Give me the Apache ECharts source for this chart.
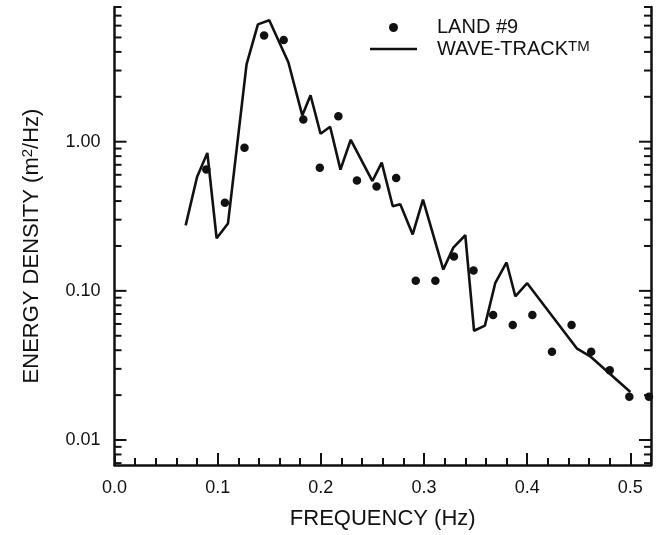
<!DOCTYPE html>
<html>
<head>
<meta charset="utf-8">
<script src="https://cdn.jsdelivr.net/npm/echarts@6/dist/echarts.min.js"></script>
<style>
html, body { margin: 0; padding: 0; background: #fff; }
#chart { width: 659px; height: 535px; }
</style>
</head>
<body>
<div id="chart"></div>
<script>
// measured spectrum (dots)
var landFreq = [0.089, 0.107, 0.126, 0.145, 0.164, 0.183, 0.199, 0.217, 0.235, 0.254, 0.273, 0.292,
    0.311, 0.329, 0.348, 0.367, 0.386, 0.405, 0.424, 0.443, 0.462, 0.480, 0.499, 0.518];
var landDensity = [0.65, 0.39, 0.91, 5.15, 4.8, 1.41, 0.67, 1.48, 0.55, 0.50, 0.57, 0.117,
    0.117, 0.17, 0.137, 0.069, 0.059, 0.069, 0.039, 0.059, 0.039, 0.0294, 0.0195, 0.0195];

// model spectrum (line)
var waveFreq = [0.069, 0.080, 0.090, 0.099, 0.110, 0.128, 0.139, 0.150, 0.1685, 0.182, 0.190,
    0.1997, 0.209, 0.219, 0.229, 0.250, 0.259, 0.2697, 0.277, 0.289, 0.299, 0.3187, 0.3284,
    0.340, 0.3485, 0.359, 0.369, 0.380, 0.3885, 0.400, 0.448, 0.461, 0.500];
var waveDensity = [0.275, 0.58, 0.84, 0.225, 0.283, 3.30, 6.12, 6.52, 3.41, 1.5, 2.05,
    1.13, 1.26, 0.65, 1.03, 0.545, 0.724, 0.369, 0.381, 0.239, 0.409, 0.139, 0.195,
    0.236, 0.054, 0.0585, 0.1125, 0.155, 0.092, 0.1125, 0.0412, 0.0364, 0.021];

// axis ticks
var yMajorTicks = [0.01, 0.1, 1];
var yMinorTicks = [0.007, 0.008, 0.009, 0.02, 0.03, 0.04, 0.05, 0.06, 0.07, 0.08, 0.09,
    0.2, 0.3, 0.4, 0.5, 0.6, 0.7, 0.8, 0.9, 2, 3, 4, 5, 6, 7, 8];

var X_MIN = 0, X_MAX = 0.52;
var Y_MIN = 0.0068, Y_MAX = 8;
var INK = '#111';
var FONT = 'Liberation Sans';

function zip(a, b) {
    return a.map(function (v, i) { return [v, b[i]]; });
}

// ticks on both left and right frame, pointing inward
function tickRenderer(len) {
    return function (params, api) {
        var v = api.value(1);
        var l = api.coord([X_MIN, v]);
        var r = api.coord([X_MAX, v]);
        return {
            type: 'group',
            children: [
                { type: 'line', shape: { x1: l[0], y1: l[1], x2: l[0] + len, y2: l[1] }, style: { stroke: INK, lineWidth: 2 } },
                { type: 'line', shape: { x1: r[0], y1: r[1], x2: r[0] - len, y2: r[1] }, style: { stroke: INK, lineWidth: 2 } }
            ]
        };
    };
}

var legendText = {
    fontFamily: FONT, fontSize: 20, color: INK,
    rich: {
        t: { fontFamily: FONT, fontSize: 20, color: INK },
        sup: { fontFamily: FONT, fontSize: 15, color: INK, verticalAlign: 'top' }
    }
};

var chart = echarts.init(document.getElementById('chart'));
var opt = {
    backgroundColor: '#fff',
    animation: false,
    grid: { left: 114.5, right: 8, top: 7, bottom: 67.5 },
    legend: [{
        data: [{ name: 'LAND #9', icon: 'circle' }],
        left: 389, top: 17.5, padding: 0,
        itemWidth: 9, itemHeight: 9,
        formatter: function (name) { return '{t|' + name + '}'; },
        textStyle: echarts.util.extend({ padding: [0, 0, 0, 34] }, legendText)
    }, {
        data: [{ name: 'WAVE-TRACK', icon: 'rect' }],
        left: 370, top: 39, padding: 0,
        itemWidth: 47, itemHeight: 2.6,
        itemStyle: { color: INK },
        formatter: function (name) { return '{t|' + name + '}{sup|TM}'; },
        textStyle: echarts.util.extend({ padding: [0, 0, 0, 15] }, legendText)
    }],
    xAxis: {
        type: 'value', min: X_MIN, max: X_MAX, interval: 0.1,
        axisLine: { onZero: false, lineStyle: { color: INK, width: 2.5 } },
        axisTick: { inside: true, length: 12, lineStyle: { color: INK, width: 2 } },
        minorTick: { show: true, splitNumber: 5, length: 7, lineStyle: { color: INK, width: 2 } },
        splitLine: { show: false },
        axisLabel: {
            margin: 14, fontFamily: FONT, fontSize: 18, color: INK,
            formatter: function (v) {
                return Math.abs(v * 10 - Math.round(v * 10)) < 1e-6 ? v.toFixed(1) : '';
            }
        },
        name: 'FREQUENCY (Hz)', nameLocation: 'middle', nameGap: 43,
        nameTextStyle: { fontFamily: FONT, fontSize: 22, color: INK }
    },
    yAxis: [{
        type: 'log', logBase: 10, min: Y_MIN, max: Y_MAX,
        axisLine: { show: true, lineStyle: { color: INK, width: 2.5 } },
        axisTick: { show: false },
        splitLine: { show: false },
        axisLabel: {
            margin: 14, fontFamily: FONT, fontSize: 18, color: INK,
            formatter: function (v) {
                var d = Math.log10(v);
                return Math.abs(d - Math.round(d)) < 1e-6 ? v.toFixed(2) : '';
            }
        },
        name: 'ENERGY DENSITY (m{sup|2}/Hz)', nameLocation: 'middle', nameGap: 72, nameRotate: 90,
        nameTextStyle: {
            fontFamily: FONT, fontSize: 22, color: INK, padding: [0, 20, 0, 0],
            rich: { sup: { fontFamily: FONT, fontSize: 15, color: INK, verticalAlign: 'top' } }
        }
    }, {
        type: 'log', logBase: 10, min: Y_MIN, max: Y_MAX, position: 'right',
        axisLine: { show: true, lineStyle: { color: INK, width: 2.5 } },
        axisTick: { show: false },
        axisLabel: { show: false },
        splitLine: { show: false }
    }],
    series: [{
        name: 'LAND #9',
        type: 'scatter',
        data: zip(landFreq, landDensity),
        symbol: 'circle',
        symbolSize: 8.5,
        itemStyle: { color: INK, opacity: 1 },
        clip: false
    }, {
        name: 'WAVE-TRACK',
        type: 'line',
        data: zip(waveFreq, waveDensity),
        symbol: 'none',
        lineStyle: { color: INK, width: 2.6 },
        itemStyle: { color: INK }
    }, {
        type: 'custom',
        silent: true,
        clip: false,
        data: yMajorTicks.map(function (v) { return [X_MIN, v]; }),
        renderItem: tickRenderer(12)
    }, {
        type: 'custom',
        silent: true,
        clip: false,
        data: yMinorTicks.map(function (v) { return [X_MIN, v]; }),
        renderItem: tickRenderer(7)
    }]
};
chart.setOption(opt);
window.addEventListener('resize', function () {
    chart.resize();
});
</script>
</body>
</html>
